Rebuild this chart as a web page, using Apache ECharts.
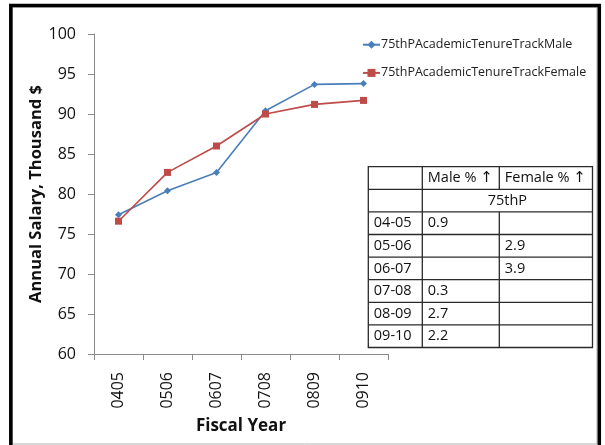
<!DOCTYPE html>
<html>
<head>
<meta charset="utf-8">
<script src="https://cdn.jsdelivr.net/npm/echarts@6/dist/echarts.min.js"></script>
<style>
html,body{margin:0;padding:0;background:#fff;}
#chart{width:605px;height:445px;}
</style>
</head>
<body>
<div id="chart"></div>
<script>
// ---- data ----
var categories = ['0405', '0506', '0607', '0708', '0809', '0910'];
var maleValues = [77.4, 80.4, 82.7, 90.4, 93.7, 93.8];
var femaleValues = [76.6, 82.7, 86.0, 90.0, 91.2, 91.7];
var maleName = '75thPAcademicTenureTrackMale';
var femaleName = '75thPAcademicTenureTrackFemale';
var yTicks = [60, 65, 70, 75, 80, 85, 90, 95, 100];

var tableHeaders = ['', 'Male % ', 'Female % '];
var tableArrow = '\u2191';
var tableSubHeader = '75thP';
var tableYears = ['04-05', '05-06', '06-07', '07-08', '08-09', '09-10'];
var tableMale = ['0.9', '', '', '0.3', '2.7', '2.2'];
var tableFemale = ['', '2.9', '3.9', '', '', ''];

// ---- layout ----
var FONT = 'Open Sans';
var cols = [368.3, 422.3, 499.3, 592.5];
var tTop = 166.7, rowH = 22.6;
var nRows = 2 + tableYears.length;

function buildTable() {
  var els = [];
  var lineStyle = { stroke: '#2a2a2a', lineWidth: 1.3 };
  var tBottom = tTop + rowH * nRows;
  els.push({ type: 'rect', shape: { x: cols[0], y: tTop, width: cols[3] - cols[0], height: tBottom - tTop },
    style: { fill: '#fff', stroke: '#2a2a2a', lineWidth: 1.3 }, z: 10 });
  for (var r = 1; r < nRows; r++) {
    var y = tTop + r * rowH;
    els.push({ type: 'line', shape: { x1: cols[0], y1: y, x2: cols[3], y2: y }, style: lineStyle, z: 11 });
  }
  els.push({ type: 'line', shape: { x1: cols[1], y1: tTop, x2: cols[1], y2: tBottom }, style: lineStyle, z: 11 });
  els.push({ type: 'line', shape: { x1: cols[2], y1: tTop, x2: cols[2], y2: tTop + rowH }, style: lineStyle, z: 11 });
  els.push({ type: 'line', shape: { x1: cols[2], y1: tTop + 2 * rowH, x2: cols[2], y2: tBottom }, style: lineStyle, z: 11 });
  var font = '14.5px "' + FONT + '"';
  function txt(s, x, y, align) {
    if (!s) return;
    els.push({ type: 'text', x: x, y: y, z: 12,
      style: { text: s, font: font, fill: '#111', align: align || 'left', verticalAlign: 'middle' } });
  }
  function hdr(s, x, y) {
    els.push({ type: 'text', x: x, y: y, z: 12,
      style: { text: s + '{a|' + tableArrow + '}', font: font, fill: '#111', align: 'left', verticalAlign: 'middle',
        rich: { a: { fontFamily: 'DejaVu Sans', fontSize: 15, fill: '#111' } } } });
  }
  var pad = 5.5;
  hdr(tableHeaders[1], cols[1] + pad, tTop + rowH / 2);
  hdr(tableHeaders[2], cols[2] + pad, tTop + rowH / 2);
  txt(tableSubHeader, (cols[1] + cols[3]) / 2, tTop + rowH * 1.5, 'center');
  for (var i = 0; i < tableYears.length; i++) {
    var cy = tTop + rowH * (i + 2.5);
    txt(tableYears[i], cols[0] + pad, cy);
    txt(tableMale[i], cols[1] + pad, cy);
    txt(tableFemale[i], cols[2] + pad, cy);
  }
  return els;
}

function buildFrame() {
  return [
    { type: 'rect', shape: { x: 12.5, y: 7.2, width: 584.5, height: 436.8 },
      style: { fill: null, stroke: '#b0b0b0', lineWidth: 1 }, z: 20, silent: true },
    { type: 'polyline', shape: { points: [[10.8, 460], [10.8, 5.5], [599.3, 5.5], [599.3, 460]] },
      style: { fill: null, stroke: '#000', lineWidth: 3.5 }, z: 21, silent: true }
  ];
}

var chart = echarts.init(document.getElementById('chart'), null, { renderer: 'canvas' });
chart.setOption({
  backgroundColor: '#fff',
  animation: false,
  textStyle: { fontFamily: FONT },
  grid: { left: 94, right: 217, top: 34, bottom: 91, containLabel: false },
  legend: {
    orient: 'vertical', left: 357, top: 33.2,
    itemWidth: 17, itemHeight: 10, itemGap: 15.2,
    textStyle: { fontFamily: FONT, fontSize: 12.5, lineHeight: 10, color: '#222', padding: [0, 0, 0, -4] },
    data: [maleName, femaleName]
  },
  xAxis: {
    type: 'category', data: categories, boundaryGap: true,
    name: 'Fiscal Year', nameLocation: 'middle', nameGap: 64,
    nameTextStyle: { fontFamily: FONT, fontSize: 17, fontWeight: 'bold', color: '#111' },
    axisLine: { lineStyle: { color: '#8a8a8a', width: 1 } },
    axisTick: { show: true, length: 6, alignWithLabel: false, lineStyle: { color: '#8a8a8a' } },
    axisLabel: { rotate: 90, margin: 18, fontFamily: FONT, fontSize: 16, color: '#111' },
    splitLine: { show: false }
  },
  yAxis: {
    type: 'value', min: 60, max: 100, interval: 5,
    name: 'Annual Salary, Thousand $', nameLocation: 'middle', nameGap: 43, nameRotate: 90,
    nameTextStyle: { fontFamily: FONT, fontSize: 16.5, fontWeight: 'bold', color: '#111' },
    axisLine: { show: true, lineStyle: { color: '#8a8a8a', width: 1 } },
    axisTick: { show: true, length: 6, lineStyle: { color: '#8a8a8a' } },
    axisLabel: { margin: 18, fontFamily: FONT, fontSize: 16, color: '#111',
      formatter: function (v) { return yTicks.indexOf(v) >= 0 ? String(v) : ''; } },
    splitLine: { show: false }
  },
  series: [
    { name: maleName, type: 'line', data: maleValues, symbol: 'diamond', symbolSize: 7,
      color: '#4a7ebb', lineStyle: { width: 1.6, color: '#4a7ebb' }, itemStyle: { color: '#4a7ebb' } },
    { name: femaleName, type: 'line', data: femaleValues, symbol: 'rect', symbolSize: 7,
      color: '#be4b48', lineStyle: { width: 1.6, color: '#be4b48' }, itemStyle: { color: '#be4b48' } }
  ],
  graphic: buildTable().concat(buildFrame())
});
</script>
</body>
</html>
